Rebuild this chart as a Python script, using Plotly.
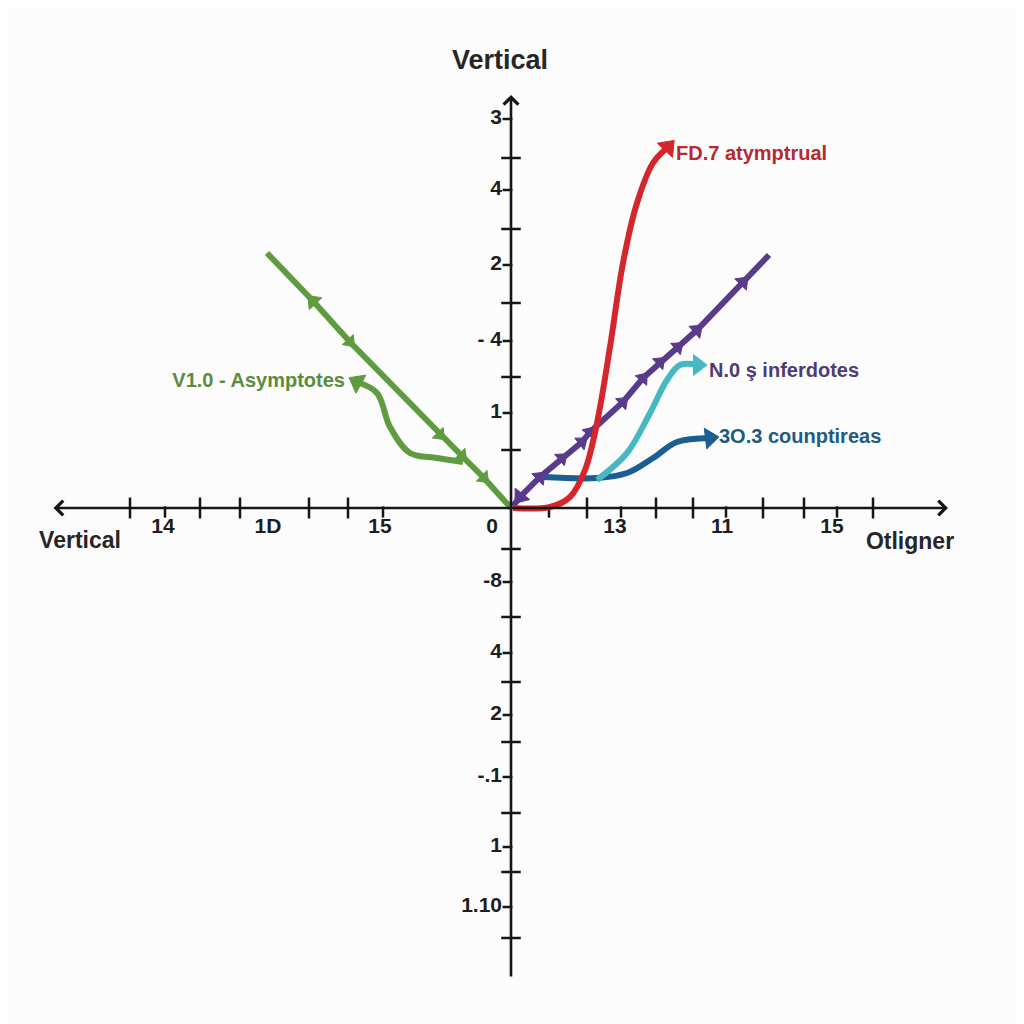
import plotly.graph_objects as go

# ---------------- data (units: 1 unit = 10 px, origin at axes crossing) -------------
x_axis_ext = [-45.9, 43.7]
y_axis_ext = [-47.0, 41.3]

x_cross_ticks = [-38.1, -31.1, -27.1, -20.2, -16.3, 7.6, 14.5, 18.2, 25.2, 29.3, 36.2]
x_half_ticks = [-34.6, -12.8, 3.8, 11.0, 21.5, 32.6]
x_label_pos = [-34.8, -24.3, -13.1, -1.9, 10.4, 21.1, 32.1]
x_label_text = ["14", "1D", "15", "0", "13", "11", "15"]

y_cross_ticks = [35.0, 27.9, 20.5, 13.1, 5.8, -4.1, -10.9, -17.4, -23.4, -30.5, -36.4, -43.0]
y_label_pos = [38.9, 31.8, 24.3, 16.7, 9.5, -7.4, -14.5, -20.7, -26.9, -33.9, -39.9]
y_label_text = ["3", "4", "2", "- 4", "1", "-8", "4", "2", "-.1", "1", "1.10"]

# green straight line with direction markers
green_x = [-24.4, -19.8, -16.1, -7.1, -4.9, -2.7, 0.0]
green_y = [25.5, 20.7, 16.6, 7.3, 5.2, 3.0, 0.0]
green_mark = [0, 15, 13, 13, 13, 13, 0]
green_flip = [0, 180, 0, 0, 0, 0, 0]

# green annotation curve (drawn from line toward label)
greenc_x = [-4.8, -7.4, -10.1, -12.1, -13.4, -15.4]
greenc_y = [4.6, 5.0, 5.5, 8.1, 11.5, 12.6]

# red curve
red_x = [0.2, 3.9, 5.9, 7.4, 8.6, 9.9, 11.2, 12.6, 14.2, 15.7]
red_y = [0.0, 0.1, 1.1, 3.8, 8.5, 16.1, 24.5, 30.5, 34.5, 36.1]

# purple straight line with direction markers
purple_x = [0.2, 0.9, 2.9, 5.1, 7.1, 7.9, 11.2, 13.2, 14.9, 16.7, 18.6, 23.2, 25.8]
purple_y = [0.2, 1.1, 3.1, 5.0, 6.6, 7.6, 10.6, 13.0, 14.6, 16.1, 17.8, 22.6, 25.3]
purple_mark = [0, 16, 14, 13, 13, 13, 13, 13, 13, 13, 14, 14, 0]
purple_flip = [0, 180, 0, 0, 0, 0, 0, 0, 0, 0, 0, 0, 0]

# teal curve
teal_x = [8.6, 11.6, 13.9, 15.6, 16.9, 18.7]
teal_y = [2.8, 5.5, 9.5, 12.8, 14.3, 14.3]

# dark blue curve
blue_x = [3.2, 8.6, 11.6, 14.2, 16.6, 19.9]
blue_y = [3.1, 3.0, 3.5, 5.0, 6.6, 7.0]

series_labels = ["V1.0 - Asymptotes", "FD.7 atymptrual", "N.0 ş inferdotes", "3O.3 counptireas"]
label_x = [-16.6, 16.5, 19.8, 20.8]
label_y = [12.6, 35.3, 13.6, 7.0]

axis_titles = ["Vertical", "Vertical", "Otligner"]
axis_title_x = [-1.1, -43.1, 39.9]
axis_title_y = [44.6, -3.4, -3.5]

# ---------------- styles ----------------
AX = "#161616"
GREEN, GREEN_T = "#5f9c40", "#5b8c3c"
RED, RED_T = "#d4262b", "#b42a2e"
PURPLE, PURPLE_T = "#5a3b8b", "#4d3c72"
TEAL = "#45b8c3"
BLUE, BLUE_T = "#1b5e91", "#225a80"
FONT = "Liberation Sans, Arial, sans-serif"
LW = 6
BG = "#fcfcfc"


def head_sizes(n, start=0, end=18):
    s = [0] * n
    s[0] = start
    s[-1] = end
    return s


fig = go.Figure()

# ticks
fig.add_trace(go.Scatter(x=x_cross_ticks, y=[0] * len(x_cross_ticks), mode="markers",
                         marker=dict(symbol="line-ns", size=15, line=dict(width=2.5, color=AX)),
                         hoverinfo="skip", showlegend=False))
fig.add_trace(go.Scatter(x=x_half_ticks, y=[-0.4] * len(x_half_ticks), mode="markers",
                         marker=dict(symbol="line-ns", size=8, line=dict(width=2.5, color=AX)),
                         hoverinfo="skip", showlegend=False))
fig.add_trace(go.Scatter(x=[0] * len(y_cross_ticks), y=y_cross_ticks, mode="markers",
                         marker=dict(symbol="line-ew", size=14, line=dict(width=2.5, color=AX)),
                         hoverinfo="skip", showlegend=False))
fig.add_trace(go.Scatter(x=[-0.35] * len(y_label_pos), y=y_label_pos, mode="markers",
                         marker=dict(symbol="line-ew", size=7, line=dict(width=2.5, color=AX)),
                         hoverinfo="skip", showlegend=False))


def curve(xs, ys, color, sizes, angles=0, spline=True):
    return go.Scatter(
        x=xs, y=ys, mode="lines+markers", opacity=1,
        line=dict(color=color, width=LW, shape="spline" if spline else "linear"),
        marker=dict(symbol="triangle-up", size=sizes, color=color, angleref="previous",
                    angle=angles, opacity=1, line=dict(width=1, color=color)),
        hoverinfo="skip", showlegend=False)


fig.add_trace(curve(green_x, green_y, GREEN, green_mark, green_flip, spline=False))
fig.add_trace(curve(greenc_x, greenc_y, GREEN, head_sizes(len(greenc_x))))
fig.add_trace(curve(blue_x, blue_y, BLUE, head_sizes(len(blue_x))))
fig.add_trace(curve(teal_x, teal_y, TEAL, head_sizes(len(teal_x), start=15),
                    [180] + [0] * (len(teal_x) - 1)))
fig.add_trace(curve(purple_x, purple_y, PURPLE, purple_mark, purple_flip, spline=False))
fig.add_trace(curve(red_x, red_y, RED, head_sizes(len(red_x))))

# tick labels
fig.add_trace(go.Scatter(x=x_label_pos, y=[-2.0] * len(x_label_pos), mode="text",
                         text=x_label_text, textposition="middle center",
                         textfont=dict(family=FONT, size=21, color="#1e1e1e", weight="bold"),
                         hoverinfo="skip", showlegend=False))
fig.add_trace(go.Scatter(x=[-0.9] * len(y_label_pos), y=y_label_pos, mode="text",
                         text=y_label_text, textposition="middle left",
                         textfont=dict(family=FONT, size=21, color="#1e1e1e", weight="bold"),
                         hoverinfo="skip", showlegend=False))

# axis titles
fig.add_trace(go.Scatter(x=axis_title_x, y=axis_title_y, mode="text",
                         text=axis_titles, textposition="middle center",
                         textfont=dict(family=FONT, size=[27, 23, 23], color="#262626", weight="bold"),
                         hoverinfo="skip", showlegend=False))

# series labels
fig.add_trace(go.Scatter(x=label_x, y=label_y, mode="text",
                         text=series_labels,
                         textposition=["middle left", "middle right", "middle right", "middle right"],
                         textfont=dict(family=FONT, size=20, color=[GREEN_T, RED_T, PURPLE_T, BLUE_T],
                                       weight="bold"),
                         hoverinfo="skip", showlegend=False))

# axis lines with arrowheads
fig.add_annotation(x=x_axis_ext[1], y=0, ax=x_axis_ext[0], ay=0, xref="x", yref="y",
                   axref="x", ayref="y", text="", showarrow=True, arrowhead=4,
                   arrowside="end+start", arrowsize=1.1, arrowwidth=2.6, arrowcolor=AX)
fig.add_annotation(x=0, y=y_axis_ext[1], ax=0, ay=y_axis_ext[0], xref="x", yref="y",
                   axref="x", ayref="y", text="", showarrow=True, arrowhead=4,
                   arrowside="end", arrowsize=1.1, arrowwidth=2.6, arrowcolor=AX)

# page is rendered with an 8px body margin, so the ranges are shifted by 0.8 units
fig.update_layout(
    width=1024, height=1024,
    margin=dict(l=0, r=0, t=0, b=0),
    paper_bgcolor=BG, plot_bgcolor=BG,
    xaxis=dict(range=[-50.3, 52.1], visible=False, fixedrange=True),
    yaxis=dict(range=[-52.4, 50.0], visible=False, fixedrange=True),
    showlegend=False,
)

fig.write_html("out.html")
